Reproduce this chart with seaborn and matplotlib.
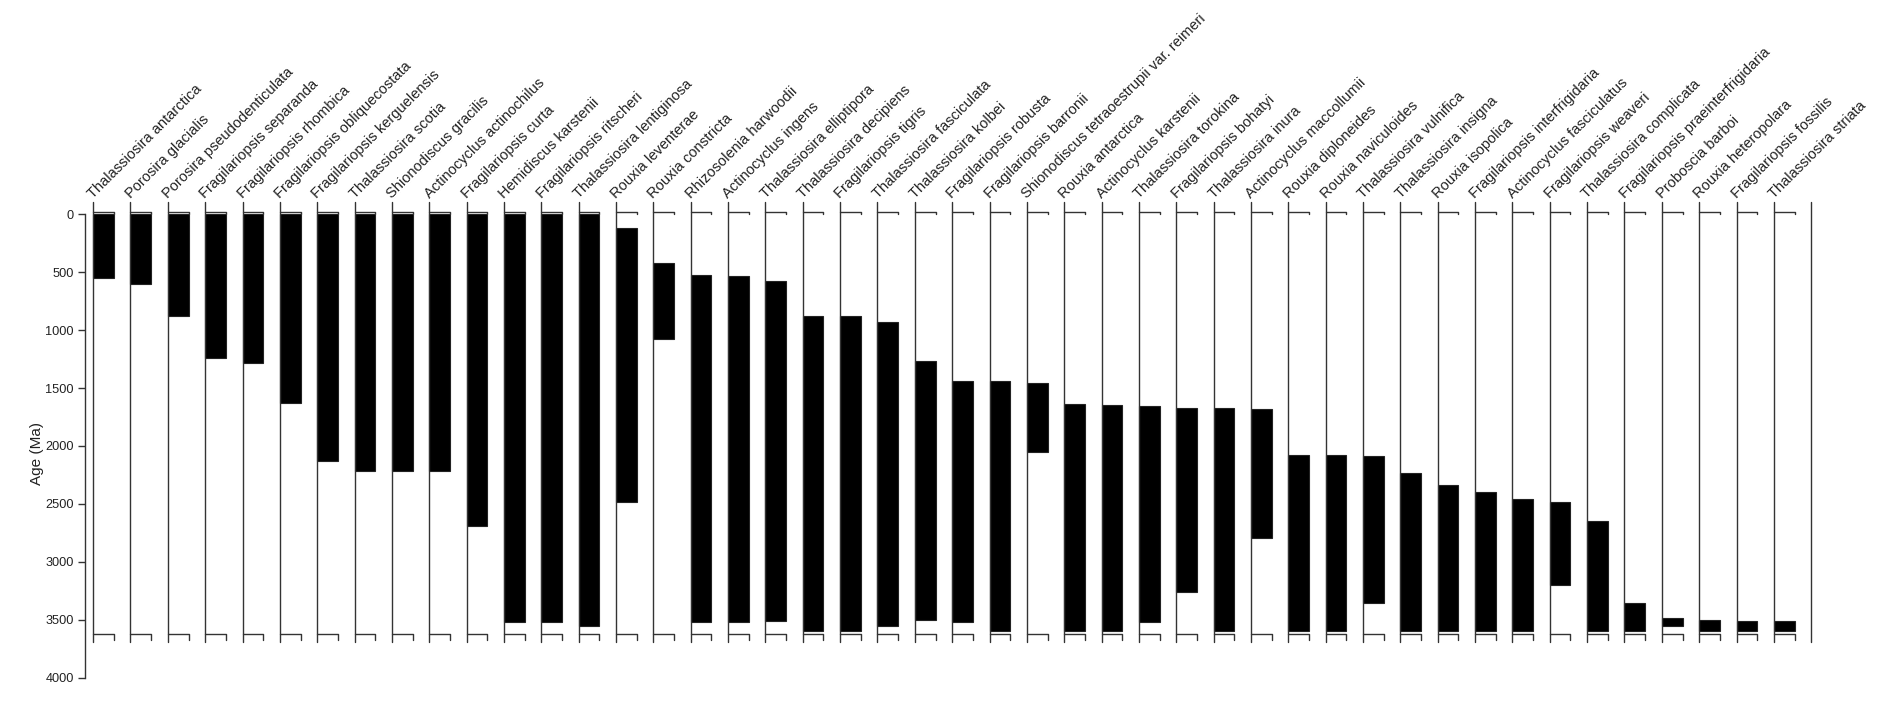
import numpy as np
import pandas as pd
import matplotlib
matplotlib.use('Agg')
import matplotlib.pyplot as plt
import seaborn as sns

taxa = ['Thalassiosira antarctica', 'Porosira glacialis', 'Porosira pseudodenticulata',
        'Fragilariopsis separanda', 'Fragilariopsis rhombica', 'Fragilariopsis obliquecostata',
        'Fragilariopsis kerguelensis', 'Thalassiosira scotia', 'Shionodiscus gracilis',
        'Actinocyclus actinochilus', 'Fragilariopsis curta', 'Hemidiscus karstenii',
        'Fragilariopsis ritscheri', 'Thalassiosira lentiginosa', 'Rouxia leventerae',
        'Rouxia constricta', 'Rhizosolenia harwoodii', 'Actinocyclus ingens',
        'Thalassiosira elliptipora', 'Thalassiosira decipiens', 'Fragilariopsis tigris',
        'Thalassiosira fasciculata', 'Thalassiosira kolbei', 'Fragilariopsis robusta',
        'Fragilariopsis barronii', 'Shionodiscus tetraoestrupii var. reimeri',
        'Rouxia antarctica', 'Actinocyclus karstenii', 'Thalassiosira torokina',
        'Fragilariopsis bohatyi', 'Thalassiosira inura', 'Actinocyclus maccollumii',
        'Rouxia diploneides', 'Rouxia naviculoides', 'Thalassiosira vulnifica',
        'Thalassiosira insigna', 'Rouxia isopolica', 'Fragilariopsis interfrigidaria',
        'Actinocyclus fasciculatus', 'Fragilariopsis weaveri', 'Thalassiosira complicata',
        'Fragilariopsis praeinterfrigidaria', 'Proboscia barboi', 'Rouxia heteropolara',
        'Fragilariopsis fossilis', 'Thalassiosira striata']

# youngest occurrence (top of range), Ma
top_age = [0, 0, 0, 0, 0, 0, 0, 0, 0, 0, 0, 0, 0, 0, 114, 420, 520, 531, 577, 874,
           874, 929, 1263, 1437, 1437, 1457, 1634, 1643, 1651, 1671, 1671, 1677,
           2077, 2077, 2086, 2234, 2337, 2400, 2457, 2486, 2651, 3357, 3486, 3506,
           3514, 3514]
# oldest occurrence (base of range), Ma
base_age = [546, 603, 877, 1240, 1286, 1629, 2129, 2214, 2214, 2214, 2694, 3520, 3520,
            3557, 2480, 1074, 3520, 3520, 3511, 3594, 3594, 3557, 3500, 3520, 3594,
            2049, 3594, 3594, 3520, 3260, 3594, 2794, 3594, 3594, 3351, 3594, 3594,
            3594, 3594, 3203, 3594, 3594, 3557, 3594, 3594, 3594]

age_ticks = [0, 500, 1000, 1500, 2000, 2500, 3000, 3500, 4000]

df = pd.DataFrame({'taxon': taxa, 'top': top_age, 'base': base_age})
df['span'] = df['base'] - df['top']

sns.set_style('ticks')
plt.rcParams['font.family'] = ['Liberation Sans', 'DejaVu Sans']

fig = plt.figure(figsize=(18.92, 7.06), dpi=100)
ax = fig.add_axes([0.04493, 0.0401, 0.9144, 0.6744])

w = 0.554
line_col = '#333333'
sns.barplot(data=df, x='taxon', y='span', bottom=df['top'].values, width=w,
            color='black', edgecolor='#222222', linewidth=0.8, ax=ax)

# panel frames: a line per taxon with a bracket at top and bottom
n = len(taxa)
for i in range(n):
    x0 = i - w / 2
    x1 = i + w / 2
    ax.plot([x0, x0], [-106, 3694], color=line_col, lw=1.0, clip_on=False)
    ax.plot([x0, x1, x1], [-23, -23, 0], color=line_col, lw=1.0, clip_on=False)
    ax.plot([x0, x1, x1], [3623, 3623, 3671], color=line_col, lw=1.0, clip_on=False)
    ax.text(x0 + 0.06, -118, taxa[i], rotation=45, rotation_mode='anchor',
            ha='left', va='bottom', fontsize=10.5, color='#222222')
ax.plot([n - w / 2] * 2, [-106, 3694], color=line_col, lw=1.0, clip_on=False)

ax.set_xlim(-0.494, 45.825)
ax.set_ylim(4000, -110)
ax.set_xticks([])
ax.set_xlabel('')
ax.set_yticks(age_ticks)
ax.set_yticklabels([str(t) for t in age_ticks])
ax.tick_params(axis='y', direction='out', length=5, width=1, pad=3, colors=line_col,
               labelcolor='#222222', labelsize=9.2)
ax.set_ylabel('Age (Ma)', fontsize=11, color='#222222')
ax.yaxis.set_label_coords(-0.0235, 0.47)
for s in ['top', 'right', 'bottom']:
    ax.spines[s].set_visible(False)
ax.spines['left'].set_bounds(0, 4000)
ax.spines['left'].set_color(line_col)
ax.spines['left'].set_linewidth(1.0)

plt.savefig('out.png', dpi=100)
